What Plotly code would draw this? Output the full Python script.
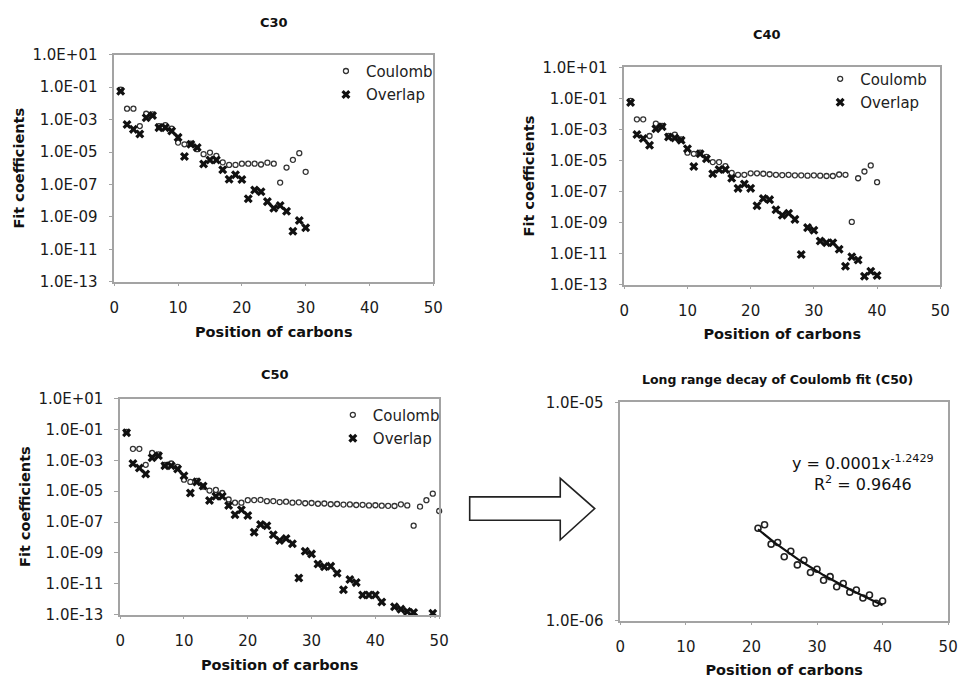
import numpy as np
import plotly.graph_objects as go

W, H = 968, 688

# ---------------- data ----------------
positions_c30 = list(range(1, 31))
c30_coulomb = [7e-2, 4.7e-3, 4.7e-3, 4.0e-4, 2.3e-3, 2.1e-3, 4.0e-4, 4.6e-4, 2.8e-4, 3.8e-5,
               3.0e-5, 3.3e-5, 1.5e-5, 7.4e-6, 9.3e-6, 5.8e-6, 2.3e-6, 1.6e-6, 1.6e-6, 1.9e-6,
               1.9e-6, 1.9e-6, 1.7e-6, 2.2e-6, 1.9e-6, 1.3e-7, 1.1e-6, 3.3e-6, 8.5e-6, 6.0e-7]
c30_overlap = [5.6e-2, 5.0e-4, 2.5e-4, 1.3e-4, 1.3e-3, 1.8e-3, 3.2e-4, 3.2e-4, 2.0e-4, 8.0e-5,
               5.3e-6, 3.0e-5, 1.9e-5, 1.8e-6, 3.2e-6, 3.2e-6, 8.0e-7, 2.1e-7, 4.0e-7, 2.0e-7,
               1.3e-8, 4.5e-8, 3.5e-8, 8.7e-9, 3.4e-9, 5.0e-9, 2.2e-9, 1.3e-10, 6.0e-10, 2.1e-10]

positions_c40 = list(range(1, 41))
c40_coulomb = [7e-2, 4.5e-3, 4.5e-3, 3.8e-4, 2.4e-3, 1.7e-3, 3.8e-4, 4.7e-4, 2.3e-4, 3.2e-5,
               2.7e-5, 3.2e-5, 1.7e-5, 7.9e-6, 7.9e-6, 4.4e-6, 1.6e-6, 1.2e-6, 1.2e-6, 1.5e-6,
               1.5e-6, 1.4e-6, 1.3e-6, 1.2e-6, 1.15e-6, 1.2e-6, 1.1e-6, 1.1e-6, 1.05e-6, 1.1e-6,
               1.05e-6, 1.0e-6, 1.0e-6, 1.25e-6, 1.2e-6, 1.1e-9, 7.2e-7, 1.95e-6, 4.8e-6, 4.0e-7]
c40_overlap = [5.4e-2, 4.7e-4, 2.6e-4, 9.5e-5, 1.1e-3, 1.5e-3, 3.3e-4, 2.8e-4, 2.0e-4, 5.8e-5,
               4.1e-6, 2.7e-5, 1.3e-5, 1.4e-6, 2.6e-6, 2.6e-6, 7.2e-7, 1.6e-7, 3.1e-7, 1.6e-7,
               1.2e-8, 3.6e-8, 3.0e-8, 6.6e-9, 3.0e-9, 4.0e-9, 1.6e-9, 8.7e-12, 4.7e-10, 3.2e-10,
               6.4e-11, 5.0e-11, 5.0e-11, 1.9e-11, 1.5e-12, 6.3e-12, 3.8e-12, 3.4e-13, 7.3e-13, 3.8e-13]

positions_c50 = list(range(1, 51))
c50_coulomb = [7e-2, 5.5e-3, 5.5e-3, 5.1e-4, 3.0e-3, 2.4e-3, 5.0e-4, 6.2e-4, 3.8e-4, 5.6e-5,
               4.0e-5, 4.6e-5, 2.0e-5, 1.1e-5, 1.2e-5, 7.6e-6, 2.9e-6, 1.8e-6, 1.8e-6, 2.6e-6,
               2.65e-6, 2.75e-6, 2.24e-6, 2.28e-6, 1.96e-6, 2.08e-6, 1.80e-6, 1.89e-6, 1.66e-6, 1.72e-6,
               1.53e-6, 1.59e-6, 1.43e-6, 1.48e-6, 1.35e-6, 1.38e-6, 1.27e-6, 1.31e-6, 1.20e-6, 1.23e-6,
               1.15e-6, 1.12e-6, 1.1e-6, 1.4e-6, 1.2e-6, 5.8e-8, 1.0e-6, 2.6e-6, 6.9e-6, 5.2e-7]
c50_overlap_positions = list(range(1, 42)) + [43, 44, 45, 46, 49]
c50_overlap = [6.0e-2, 6.2e-4, 3.2e-4, 1.3e-4, 1.45e-3, 2.0e-3, 4.4e-4, 4.4e-4, 2.7e-4, 1.0e-4,
               7.6e-6, 4.0e-5, 2.2e-5, 2.5e-6, 4.7e-6, 4.7e-6, 1.2e-6, 3.0e-7, 6.3e-7, 2.7e-7,
               2.2e-8, 7.0e-8, 5.8e-8, 1.5e-8, 6.5e-9, 8.6e-9, 4.0e-9, 2.4e-11, 1.3e-9, 8.7e-10,
               1.9e-10, 1.3e-10, 1.4e-10, 4.9e-11, 4.1e-12, 1.9e-11, 1.2e-11, 1.9e-12, 1.9e-12, 1.9e-12,
               6.7e-13, 3.3e-13, 2.3e-13, 1.6e-13, 1.4e-13, 1.26e-13]

# long-range part of the C50 Coulomb fit (positions 21..40)
decay_positions = positions_c50[20:40]
decay_coulomb = c50_coulomb[20:40]

log_tickvals = [1e1, 1e-1, 1e-3, 1e-5, 1e-7, 1e-9, 1e-11, 1e-13]
log_ticktext = ["1.0E+01", "1.0E-01", "1.0E-03", "1.0E-05", "1.0E-07", "1.0E-09", "1.0E-11", "1.0E-13"]
decay_tickvals = [1e-5, 1e-6]
decay_ticktext = ["1.0E-05", "1.0E-06"]
x_tickvals = [0, 10, 20, 30, 40, 50]

panel_titles = ["C30", "C40", "C50", "Long range decay of Coulomb fit (C50)"]
fit_text = "y = 0.0001x<sup>-1.2429</sup><br>R<sup>2</sup> = 0.9646"

# ---------------- layout helpers ----------------
FONT = "DejaVu Sans"
def px(x):
    return x / W
def py(y):
    return 1 - y / H
def xdom(a, b):
    return [px(a), px(b)]
def ydom(top, bottom):
    return [py(bottom), py(top)]

frame = "#a3a3a3"
axis_common = dict(showline=True, linecolor=frame, linewidth=1.5, mirror=True,
                   ticks="outside", tickcolor=frame, tickwidth=1,
                   showgrid=False, zeroline=False,
                   tickfont=dict(family=FONT, size=15, color="#1a1a1a"))
title_font = dict(family=FONT, size=14.5, color="#111111", weight="bold")

coulomb_marker = dict(symbol="circle-open", size=5, color="#333333", line=dict(width=1.3, color="#333333"))
overlap_marker = dict(symbol="x", size=8, color="#111111", line=dict(width=0))

fig = go.Figure()

panels = [
    (positions_c30, c30_coulomb, positions_c30, c30_overlap, "x", "y", "legend"),
    (positions_c40, c40_coulomb, positions_c40, c40_overlap, "x2", "y2", "legend2"),
    (positions_c50, c50_coulomb, c50_overlap_positions, c50_overlap, "x3", "y3", "legend3"),
]
for cx, cy, ox, oy, xa, ya, lg in panels:
    fig.add_trace(go.Scatter(x=cx, y=cy, mode="markers", name="Coulomb", marker=coulomb_marker,
                             xaxis=xa, yaxis=ya, legend=lg, legendgroup=lg + "c", cliponaxis=False))
    fig.add_trace(go.Scatter(x=ox, y=oy, mode="markers", name="Overlap", marker=overlap_marker,
                             xaxis=xa, yaxis=ya, legend=lg, legendgroup=lg + "o", cliponaxis=False))

# panel 4: long range decay with power-law trendline fitted to the data
fig.add_trace(go.Scatter(x=decay_positions, y=decay_coulomb, mode="markers", showlegend=False,
                         marker=dict(symbol="circle-open", size=6, color="#222222",
                                     line=dict(width=1.6, color="#222222")),
                         xaxis="x4", yaxis="y4", cliponaxis=False))
slope, intercept = np.polyfit(np.log(decay_positions), np.log(decay_coulomb), 1)
fit_x = np.linspace(min(decay_positions), max(decay_positions), 60)
fit_y = np.exp(intercept) * fit_x ** slope
fig.add_trace(go.Scatter(x=fit_x, y=fit_y, mode="lines", showlegend=False,
                         line=dict(color="#111111", width=2.2), xaxis="x4", yaxis="y4"))

domains = {
    1: (xdom(111, 435), ydom(47, 280)),
    2: (xdom(629, 950), ydom(60, 283)),
    3: (xdom(117, 441), ydom(400, 622)),
    4: (xdom(625, 958), ydom(404, 628)),
}

layout = dict(width=W, height=H, margin=dict(l=0, r=0, t=0, b=0),
              paper_bgcolor="white", plot_bgcolor="white",
              font=dict(family=FONT, color="#111111"))

for i in range(1, 5):
    xk = "xaxis" if i == 1 else f"xaxis{i}"
    yk = "yaxis" if i == 1 else f"yaxis{i}"
    xd, yd = domains[i]
    anchor_y = "y" if i == 1 else f"y{i}"
    anchor_x = "x" if i == 1 else f"x{i}"
    layout[xk] = dict(axis_common, domain=xd, anchor=anchor_y, range=[0, 50], ticklen=3,
                      tickvals=x_tickvals, ticklabelstandoff=9,
                      title=dict(text="Position of carbons", font=title_font, standoff=10))
    if i < 4:
        layout[yk] = dict(axis_common, domain=yd, anchor=anchor_x, type="log", range=[-13, 1],
                          tickvals=log_tickvals, ticktext=log_ticktext, ticklen=4, ticklabelstandoff=8,
                          title=dict(text="Fit coefficients", font=title_font, standoff=4))
    else:
        layout[yk] = dict(axis_common, domain=yd, anchor=anchor_x, type="log", range=[-6, -5],
                          tickvals=decay_tickvals, ticktext=decay_ticktext, ticklen=4, ticklabelstandoff=8)

legend_common = dict(bgcolor="rgba(0,0,0,0)", borderwidth=0, font=dict(family=FONT, size=15, color="#222222"),
                     xanchor="left", yanchor="top", tracegroupgap=1, itemwidth=30)
layout["legend"] = dict(legend_common, x=px(326), y=py(47))
layout["legend2"] = dict(legend_common, x=px(828), y=py(55))
layout["legend3"] = dict(legend_common, x=px(333), y=py(400))

title_pos = [(273, 14, 13), (774, 26, 13), (274, 375, 13), (785, 380, 12.5)]
annotations = []
for (tx, ty, fs), t in zip(title_pos, panel_titles):
    annotations.append(dict(text=t, x=px(tx), y=py(ty), xref="paper", yref="paper",
                            xanchor="center", yanchor="middle", showarrow=False,
                            font=dict(family=FONT, size=fs, color="#111111", weight="bold")))
annotations.append(dict(text=fit_text, x=px(872), y=py(476), xref="paper", yref="paper",
                        xanchor="center", yanchor="middle", showarrow=False, align="center",
                        font=dict(family=FONT, size=16, color="#111111")))
layout["annotations"] = annotations

arrow_px = [(472, 501), (564, 501), (564, 482), (599, 513), (564, 545), (564, 525), (472, 525)]
path = "M " + " L ".join(f"{px(a):.5f},{py(b):.5f}" for a, b in arrow_px) + " Z"
layout["shapes"] = [dict(type="path", path=path, xref="paper", yref="paper",
                         line=dict(color="#222222", width=1.6), fillcolor="white")]

fig.update_layout(**layout)
fig.write_html("out.html", config={"displayModeBar": False},
               post_script="document.body.style.margin='0';document.body.style.padding='0';")
